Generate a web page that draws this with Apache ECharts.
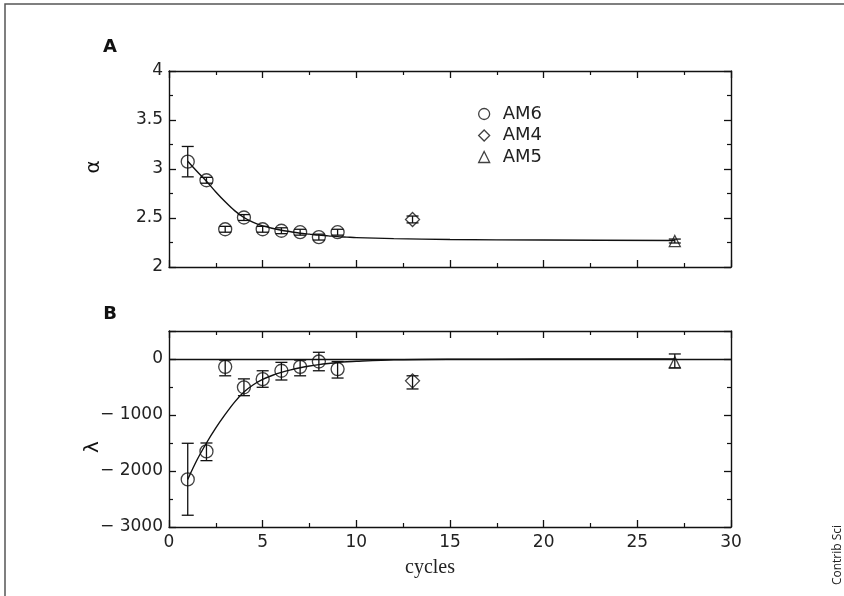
<!DOCTYPE html>
<html>
<head>
<meta charset="utf-8">
<script src="https://cdn.jsdelivr.net/npm/echarts@6/dist/echarts.min.js"></script>
<style>
  html, body { margin: 0; padding: 0; background: #fff; }
  #chart { width: 844px; height: 596px; }
</style>
</head>
<body>
<div id="chart"></div>
<script>
// ---- data ----
// panel A : alpha
const am6Cycles = [1, 2, 3, 4, 5, 6, 7, 8, 9];
const am6Alpha = [3.075, 2.885, 2.385, 2.505, 2.385, 2.37, 2.355, 2.305, 2.355];
const am6AlphaErr = [0.155, 0.03, 0.03, 0.03, 0.03, 0.03, 0.03, 0.03, 0.03];
const am4Cycles = [13];
const am4Alpha = [2.485];
const am4AlphaErr = [0.035];
const am5Cycles = [27];
const am5Alpha = [2.265];
const am5AlphaErr = [0.02];

// fitted curves
const fitCycles = [1, 1.5, 2, 2.5, 3, 3.5, 4, 4.5, 5, 5.5, 6, 6.5, 7, 7.5, 8, 8.5, 9, 9.5, 10, 12, 15, 20, 27];
const fitAlpha = [3.08, 2.975, 2.875, 2.765, 2.665, 2.575, 2.505, 2.455, 2.42, 2.395, 2.375, 2.36, 2.345, 2.335, 2.325, 2.318, 2.31, 2.305, 2.3, 2.29, 2.28, 2.275, 2.27];
const fitLambda = [-2150, -1800, -1500, -1230, -990, -770, -590, -460, -365, -295, -240, -195, -157, -125, -100, -80, -63, -50, -40, -15, -5, 0, 0];

// panel B : lambda (value, lower, upper)
const am6Lambda = [-2150, -1650, -140, -505, -360, -210, -140, -45, -180];
const am6LambdaLo = [-2790, -1815, -300, -655, -505, -375, -300, -210, -340];
const am6LambdaHi = [-1505, -1500, -20, -355, -210, -60, -20, 120, -45];
const am4Lambda = [-390];
const am4LambdaLo = [-535];
const am4LambdaHi = [-300];
const am5Lambda = [-60];
const am5LambdaLo = [-160];
const am5LambdaHi = [90];

// axis ranges
const xTicks = [0, 5, 10, 15, 20, 25, 30];
const alphaTicks = [2, 2.5, 3, 3.5, 4];
const lambdaTicks = [-3000, -2000, -1000, 0];
const lambdaTop = 500;

// ---- helpers ----
const INK = '#111';
const FONT = 'DejaVu Sans';

function zip(xs, ys) {
    return xs.map((x, i) => [x, ys[i]]);
}

function errRows(xs, lo, hi) {
    return xs.map((x, i) => [x, lo[i], hi[i]]);
}

function symErr(xs, ys, e) {
    return xs.map((x, i) => [x, ys[i] - e[i], ys[i] + e[i]]);
}

//误差棒
function renderErr(params, api) {
    const top = api.coord([api.value(0), api.value(2)]);
    const bot = api.coord([api.value(0), api.value(1)]);
    const cap = 6;
    const style = {stroke: INK, lineWidth: 1.3};
    return {
        type: 'group',
        children: [
            {type: 'line', shape: {x1: top[0], y1: top[1], x2: bot[0], y2: bot[1]}, style},
            {type: 'line', shape: {x1: top[0] - cap, y1: top[1], x2: top[0] + cap, y2: top[1]}, style},
            {type: 'line', shape: {x1: bot[0] - cap, y1: bot[1], x2: bot[0] + cap, y2: bot[1]}, style}
        ]
    };
}

const lineCommon = {
    axisLine: {show: true, onZero: false, lineStyle: {color: INK, width: 1.4}},
    axisTick: {show: true, inside: true, length: 7, lineStyle: {color: INK, width: 1.3}},
    minorTick: {show: true, splitNumber: 2, length: 4, lineStyle: {color: INK, width: 1.2}},
    splitLine: {show: false}
};

function xAxisOf(gridIndex, position, showLabel) {
    return Object.assign({
        type: 'value', gridIndex, position,
        min: xTicks[0], max: xTicks[xTicks.length - 1], interval: 5,
        axisLabel: {show: showLabel, color: '#222', fontSize: 17, fontFamily: FONT, margin: 7}
    }, lineCommon);
}

function yAxisOf(gridIndex, position, min, max, interval, showLabel, fmt) {
    return Object.assign({
        type: 'value', gridIndex, position, min, max, interval,
        axisLabel: {
            show: showLabel, color: '#222', fontSize: 17, fontFamily: FONT, margin: 6,
            showMaxLabel: gridIndex === 0,
            formatter: fmt
        }
    }, lineCommon);
}

const openStyle = {color: 'transparent', borderColor: INK, borderWidth: 1.3};

function scatter(name, xi, yi, data, symbol, size) {
    return {
        name, type: 'scatter', xAxisIndex: xi, yAxisIndex: yi,
        symbol, symbolSize: size, data, itemStyle: openStyle, z: 4
    };
}

function errSeries(xi, yi, data) {
    return {
        type: 'custom', xAxisIndex: xi, yAxisIndex: yi,
        renderItem: renderErr, data, encode: {x: 0, y: [1, 2]}, z: 3
    };
}

function fitSeries(xi, yi, data) {
    return {
        type: 'line', xAxisIndex: xi, yAxisIndex: yi,
        smooth: 0.3, showSymbol: false,
        data, lineStyle: {color: INK, width: 1.4}, z: 2
    };
}

const lambdaFmt = v => v < 0 ? '\u2212 ' + Math.abs(v) : String(v);

const chart = echarts.init(document.getElementById('chart'), null, {renderer: 'canvas'});

const fitB = fitSeries(2, 2, zip(fitCycles, fitLambda));
fitB.markLine = {
    silent: true, symbol: 'none', label: {show: false},
    lineStyle: {color: INK, width: 1.4, type: 'solid'},
    data: [{yAxis: 0}]
};

chart.setOption({
    backgroundColor: '#fff',
    animation: false,
    grid: [
        {left: 169, right: 113, top: 71, height: 196},
        {left: 169, right: 113, top: 331, height: 196}
    ],
    xAxis: [
        xAxisOf(0, 'bottom', false),
        xAxisOf(0, 'top', false),
        xAxisOf(1, 'bottom', true),
        xAxisOf(1, 'top', false)
    ],
    yAxis: [
        yAxisOf(0, 'left', alphaTicks[0], alphaTicks[alphaTicks.length - 1], 0.5, true),
        yAxisOf(0, 'right', alphaTicks[0], alphaTicks[alphaTicks.length - 1], 0.5, false),
        yAxisOf(1, 'left', lambdaTicks[0], lambdaTop, 1000, true, lambdaFmt),
        yAxisOf(1, 'right', lambdaTicks[0], lambdaTop, 1000, false)
    ],
    legend: {
        orient: 'vertical', left: 478, top: 105, padding: 0,
        itemWidth: 11, itemHeight: 11, itemGap: 3.5,
        selectedMode: false,
        textStyle: {fontSize: 18, fontFamily: FONT, color: '#222', padding: [0, 0, 0, 8]},
        data: [
            {name: 'AM6', icon: 'circle', itemStyle: openStyle},
            {name: 'AM4', icon: 'diamond', itemStyle: openStyle},
            {name: 'AM5', icon: 'triangle', itemStyle: openStyle}
        ]
    },
    series: [
        // panel A
        fitSeries(0, 0, zip(fitCycles, fitAlpha)),
        errSeries(0, 0, symErr(am6Cycles, am6Alpha, am6AlphaErr)),
        errSeries(0, 0, symErr(am4Cycles, am4Alpha, am4AlphaErr)),
        errSeries(0, 0, symErr(am5Cycles, am5Alpha, am5AlphaErr)),
        scatter('AM6', 0, 0, zip(am6Cycles, am6Alpha), 'circle', 13),
        scatter('AM4', 0, 0, zip(am4Cycles, am4Alpha), 'diamond', 14),
        scatter('AM5', 0, 0, zip(am5Cycles, am5Alpha), 'triangle', 11),
        // panel B
        fitB,
        errSeries(2, 2, errRows(am6Cycles, am6LambdaLo, am6LambdaHi)),
        errSeries(2, 2, errRows(am4Cycles, am4LambdaLo, am4LambdaHi)),
        errSeries(2, 2, errRows(am5Cycles, am5LambdaLo, am5LambdaHi)),
        scatter('AM6', 2, 2, zip(am6Cycles, am6Lambda), 'circle', 13),
        scatter('AM4', 2, 2, zip(am4Cycles, am4Lambda), 'diamond', 14),
        scatter('AM5', 2, 2, zip(am5Cycles, am5Lambda), 'triangle', 11)
    ],
    graphic: [
        {type: 'rect', shape: {x: 5, y: 4, width: 900, height: 700}, style: {fill: 'none', stroke: '#555', lineWidth: 1.5}, silent: true},
        {type: 'text', x: 110, y: 47, style: {text: 'A', font: 'bold 18px "DejaVu Sans"', fill: INK, align: 'center', verticalAlign: 'middle'}},
        {type: 'text', x: 110, y: 314, style: {text: 'B', font: 'bold 18px "DejaVu Sans"', fill: INK, align: 'center', verticalAlign: 'middle'}},
        {type: 'text', x: 94, y: 167, rotation: Math.PI / 2, style: {text: '\u03b1', font: '20px "DejaVu Sans"', fill: INK, align: 'center', verticalAlign: 'middle'}},
        {type: 'text', x: 93, y: 447, rotation: Math.PI / 2, style: {text: '\u03bb', font: '20px "DejaVu Sans"', fill: INK, align: 'center', verticalAlign: 'middle'}},
        {type: 'text', x: 430, y: 568, style: {text: 'cycles', font: '20px "Liberation Serif"', fill: '#222', align: 'center', verticalAlign: 'middle'}},
        {type: 'text', x: 838, y: 555, rotation: Math.PI / 2, style: {text: 'Contrib Sci', font: '12px "Open Sans"', fill: '#222', align: 'center', verticalAlign: 'middle'}}
    ]
});
</script>
</body>
</html>
